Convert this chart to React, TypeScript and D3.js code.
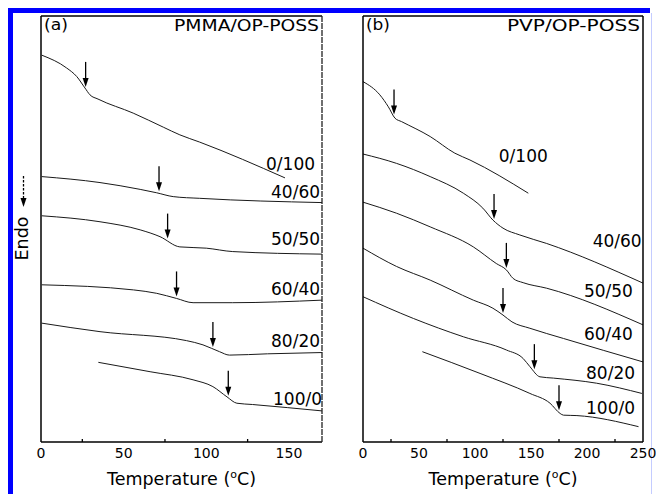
import React from "react";
import * as d3 from "d3";

type Pt = [number, number];

// Panel (a): PMMA/OP-POSS — temperature (°C) vs heat flow (a.u.)
const aCurve0_100: Pt[] = [[0.5, 9.08], [15.5, 8.78], [21.6, 8.58], [26.6, 8.31], [29.6, 8.15], [34.5, 8.05], [55.8, 7.72], [74, 7.39], [84, 7.21], [96, 7.04], [147.6, 6.2]];
const aCurve40_60: Pt[] = [[0.5, 6.23], [35.7, 6.09], [60, 5.93], [70, 5.85], [80, 5.76], [96, 5.72], [170, 5.62]];
const aCurve50_50: Pt[] = [[0.5, 5.31], [35.7, 5.17], [60, 4.98], [72, 4.82], [84, 4.58], [100, 4.55], [116, 4.47], [170, 4.41]];
const aCurve60_40: Pt[] = [[0.5, 3.69], [56, 3.57], [70, 3.49], [82, 3.37], [92, 3.27], [116, 3.27], [170, 3.33]];
const aCurve80_20: Pt[] = [[0.5, 2.79], [35.7, 2.59], [88, 2.38], [98, 2.28], [108, 2.12], [114, 2.04], [137, 2.07], [170, 2.1]];
const aCurve100_0: Pt[] = [[34.7, 1.87], [66, 1.65], [92, 1.46], [104, 1.3], [112.5, 1.06], [118.5, 0.91], [128, 0.88], [170, 0.73]];

const aCurves = [aCurve0_100, aCurve40_60, aCurve50_50, aCurve60_40, aCurve80_20, aCurve100_0];
const aTg = [27, 71.4, 76.6, 82, 104, 113.3];
const aLabels = ["0/100", "40/60", "50/50", "60/40", "80/20", "100/0"];
const aLabelPos: Pt[] = [[165.8, 6.38], [168.8, 5.73], [168.8, 4.62], [168.8, 3.45], [168.8, 2.24], [170, 0.87]];

// Panel (b): PVP/OP-POSS
const bCurve0_100: Pt[] = [[0, 8.46], [15, 8.15], [22.6, 7.87], [28.6, 7.6], [34.5, 7.52], [60, 7.17], [82, 6.78], [95.5, 6.62], [147.6, 5.84]];
const bCurve40_60: Pt[] = [[0, 6.76], [30, 6.54], [60, 6.23], [89.6, 5.84], [107, 5.49], [116, 5.21], [125, 5.02], [140, 4.86], [164, 4.66], [250, 3.73]];
const bCurve50_50: Pt[] = [[0, 5.63], [30, 5.37], [60, 5.05], [98.5, 4.58], [119, 4.19], [128, 4.04], [134, 3.84], [143, 3.74], [164, 3.61], [250, 2.75]];
const bCurve60_40: Pt[] = [[0, 4.55], [30, 4.12], [60, 3.8], [98.5, 3.33], [116, 3.14], [125, 2.98], [133, 2.82], [149, 2.67], [179, 2.43], [250, 1.88]];
const bCurve80_20: Pt[] = [[0, 3.41], [45, 2.9], [89.6, 2.47], [128, 2.16], [143, 1.96], [149, 1.77], [158, 1.53], [170, 1.5], [208.6, 1.38], [249, 1.14]];
const bCurve100_0: Pt[] = [[53, 2.12], [104.5, 1.61], [149, 1.14], [167, 0.91], [176, 0.67], [179, 0.63], [191, 0.62], [246, 0.36]];

const bCurves = [bCurve0_100, bCurve40_60, bCurve50_50, bCurve60_40, bCurve80_20, bCurve100_0];
const bTg = [27.7, 117, 128, 125, 153, 175];
const bLabels = ["0/100", "40/60", "50/50", "60/40", "80/20", "100/0"];
const bLabelPos: Pt[] = [[165, 6.58], [248.8, 4.58], [241, 3.41], [241, 2.39], [242.9, 1.47], [242.9, 0.66]];

const aTicks = [0, 50, 100, 150];
const aMinor = [25, 75, 125];
const bTicks = [0, 50, 100, 150, 200, 250];
const bMinor = [25, 75, 125, 175, 225];

const FONT = "'DejaVu Sans', Arial, sans-serif";

function interp(curve: Pt[], t: number): number {
  const xs = curve.map((p) => p[0]);
  const i = Math.max(1, Math.min(curve.length - 1, d3.bisectLeft(xs, t)));
  const [x0, y0] = curve[i - 1];
  const [x1, y1] = curve[i];
  return y0 + ((t - x0) / (x1 - x0)) * (y1 - y0);
}

interface PanelProps {
  x0: number;
  x1: number;
  xMax: number;
  curves: Pt[][];
  tg: number[];
  labels: string[];
  labelPos: Pt[];
  ticks: number[];
  minor: number[];
  tag: string;
  title: string;
  titleWidth: number;
  dashedRight: boolean;
}

const TOP = 16;
const BOTTOM = 442;

function Panel(p: PanelProps) {
  const x = d3.scaleLinear().domain([0, p.xMax]).range([p.x0, p.x1]);
  const y = d3.scaleLinear().domain([0, 10]).range([BOTTOM, TOP]);
  const line = d3
    .line<Pt>()
    .x((d) => x(d[0]))
    .y((d) => y(d[1]))
    .curve(d3.curveMonotoneX);
  return (
    <g>
      {p.curves.map((c, i) => (
        <path key={"c" + i} d={line(c) || ""} fill="none" stroke="#1a1a1a" strokeWidth={1} />
      ))}
      {p.tg.map((t, i) => {
        const tipY = y(interp(p.curves[i], t)) - 2;
        const ax = x(t);
        return (
          <g key={"a" + i}>
            <line x1={ax} x2={ax} y1={tipY - 25} y2={tipY - 7} stroke="#000" strokeWidth={1.3} />
            <path d={`M${ax - 3},${tipY - 9} L${ax + 3},${tipY - 9} L${ax},${tipY} Z`} fill="#000" />
          </g>
        );
      })}
      {p.labels.map((l, i) => (
        <text
          key={"l" + i}
          x={x(p.labelPos[i][0])}
          y={y(p.labelPos[i][1])}
          textAnchor="end"
          fontFamily={FONT}
          fontSize={17}
          fill="#000"
        >
          {l}
        </text>
      ))}
      {/* frame */}
      <line x1={p.x0} x2={p.x0} y1={TOP} y2={BOTTOM} stroke="#000" strokeWidth={1.5} />
      <line x1={p.x0} x2={p.x1} y1={TOP} y2={TOP} stroke="#000" strokeWidth={1.5} />
      <line x1={p.x0} x2={p.x1} y1={BOTTOM} y2={BOTTOM} stroke="#000" strokeWidth={1.5} />
      <line
        x1={p.x1}
        x2={p.x1}
        y1={TOP}
        y2={BOTTOM}
        stroke={p.dashedRight ? "#222" : "#000"}
        strokeWidth={p.dashedRight ? 1.3 : 1.5}
        strokeDasharray={p.dashedRight ? "6,1" : undefined}
      />
      {p.minor.map((t) => (
        <line key={"m" + t} x1={x(t)} x2={x(t)} y1={BOTTOM} y2={BOTTOM - 3} stroke="#000" strokeWidth={1.3} />
      ))}
      {p.ticks.map((t) => (
        <text key={"t" + t} x={x(t)} y={BOTTOM + 16} textAnchor="middle" fontFamily={FONT} fontSize={14} fill="#000">
          {t}
        </text>
      ))}
      <text x={(p.x0 + p.x1) / 2} y={BOTTOM + 43} textAnchor="middle" fontFamily={FONT} fontSize={17.5} fill="#000">
        Temperature (
        <tspan dy={-7} fontSize={11}>o</tspan>
        <tspan dy={7}>C)</tspan>
      </text>
      <text
        x={p.x0 + 3}
        y={30}
        fontFamily={FONT}
        fontSize={16.5}
        textLength={24}
        lengthAdjust="spacingAndGlyphs"
        fill="#000"
      >
        {p.tag}
      </text>
      <text
        x={p.x1 - 3 - p.titleWidth}
        y={31}
        fontFamily={FONT}
        fontSize={16}
        textLength={p.titleWidth}
        lengthAdjust="spacingAndGlyphs"
        fill="#000"
      >
        {p.title}
      </text>
    </g>
  );
}

export default function App() {
  return (
    <svg
      width={656}
      height={494}
      style={{ position: "absolute", left: 0, top: 0, background: "#fff" }}
    >
      <rect x={0} y={0} width={656} height={494} fill="#fff" />
      {/* blue page frame */}
      <rect x={8} y={8} width={642} height={5} fill="#0000ff" />
      <rect x={8} y={8} width={5} height={486} fill="#0000ff" />
      <line x1={651.5} x2={651.5} y1={13} y2={494} stroke="#c4ccff" strokeWidth={1} />
      <Panel
        x0={41}
        x1={322}
        xMax={170}
        curves={aCurves}
        tg={aTg}
        labels={aLabels}
        labelPos={aLabelPos}
        ticks={aTicks}
        minor={aMinor}
        tag="(a)"
        title="PMMA/OP-POSS"
        titleWidth={145}
        dashedRight={true}
      />
      <Panel
        x0={363}
        x1={643}
        xMax={250}
        curves={bCurves}
        tg={bTg}
        labels={bLabels}
        labelPos={bLabelPos}
        ticks={bTicks}
        minor={bMinor}
        tag="(b)"
        title="PVP/OP-POSS"
        titleWidth={133}
        dashedRight={false}
      />
      {/* Endo indicator */}
      <line x1={23.5} x2={23.5} y1={176} y2={199} stroke="#000" strokeWidth={1.3} strokeDasharray="2.5,1.5" />
      <path d="M20.5,198 L26.5,198 L23.5,207 Z" fill="#000" />
      <text
        transform="translate(28,238.5) rotate(-90)"
        textAnchor="middle"
        fontFamily={FONT}
        fontSize={17.5}
        fill="#000"
      >
        Endo
      </text>
    </svg>
  );
}
